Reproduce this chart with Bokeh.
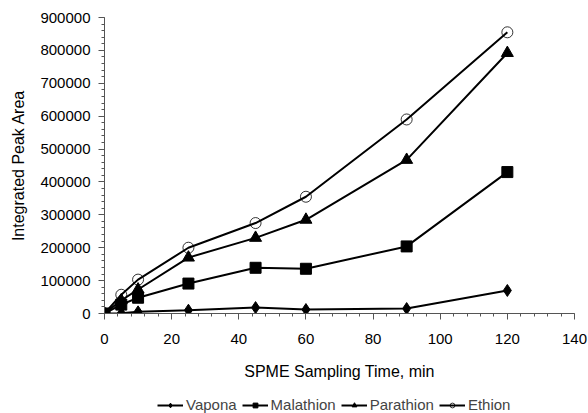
from bokeh.plotting import figure
from bokeh.layouts import column
from bokeh.models import Legend, LegendItem, FixedTicker, Range1d, NumeralTickFormatter
from bokeh.embed import file_html
from bokeh.resources import INLINE

time_min = [0, 5, 10, 25, 45, 60, 90, 120]
vapona = [0, 1000, 5000, 10000, 18000, 12000, 15000, 70000]
malathion = [0, 27000, 48000, 91000, 139000, 136000, 204000, 430000]
parathion = [0, 40000, 73000, 170000, 230000, 285000, 467000, 792000]
ethion = [0, 57000, 103000, 200000, 275000, 355000, 590000, 855000]

x_ticks = [0, 20, 40, 60, 80, 100, 120, 140]
y_ticks = [0, 100000, 200000, 300000, 400000, 500000, 600000, 700000, 800000, 900000]

FONT = "Liberation Sans"

p = figure(width=588, height=395, output_backend="svg", toolbar_location=None,
           x_range=Range1d(0, 140), y_range=Range1d(0, 900000),
           min_border_left=104, min_border_right=14, min_border_top=17, min_border_bottom=82)
p.outline_line_color = None
p.grid.grid_line_color = None
p.background_fill_color = "white"
p.border_fill_color = "white"

p.xaxis.ticker = FixedTicker(ticks=x_ticks, minor_ticks=[i * 4 for i in range(36)])
p.yaxis.ticker = FixedTicker(ticks=y_ticks, minor_ticks=[i * 20000 for i in range(46)])
p.yaxis.formatter = NumeralTickFormatter(format="0")

for ax in (p.xaxis, p.yaxis):
    ax.axis_line_color = "#555555"
    ax.major_tick_line_color = "#555555"
    ax.minor_tick_line_color = "#555555"
    ax.major_tick_in = 0
    ax.major_tick_out = 6
    ax.minor_tick_in = 0
    ax.minor_tick_out = 3
    ax.major_label_text_font = FONT
    ax.major_label_text_font_size = "15px"
    ax.major_label_text_color = "black"
    ax.axis_label_text_font = FONT
    ax.axis_label_text_font_size = "16px"
    ax.axis_label_text_font_style = "normal"
    ax.axis_label_text_color = "black"

p.xaxis.axis_label = "SPME Sampling Time, min"
p.yaxis.axis_label = "Integrated Peak Area"
p.xaxis.major_label_standoff = 14
p.xaxis.axis_label_standoff = 16
p.yaxis.major_label_standoff = 8
p.yaxis.axis_label_standoff = 10

series = [
    ("Vapona", vapona, "diamond", 12, "black"),
    ("Malathion", malathion, "square", 11, "black"),
    ("Parathion", parathion, "triangle", 12, "black"),
    ("Ethion", ethion, "circle", 11, None),
]

# legend strip below the chart
leg_fig = figure(width=588, height=18, output_backend="svg", toolbar_location=None,
                 x_range=Range1d(-20, -10), y_range=Range1d(-20, -10),
                 x_axis_location=None, y_axis_location=None,
                 min_border_left=0, min_border_right=0, min_border_top=0, min_border_bottom=0)
leg_fig.outline_line_color = None
leg_fig.grid.grid_line_color = None
leg_fig.background_fill_color = "white"
leg_fig.border_fill_color = "white"

items = []
for name, ys, marker, size, fill in series:
    kw = dict(marker=marker, size=size, line_color="black",
              fill_color=fill if fill else "white", fill_alpha=1 if fill else 0,
              line_width=1 if fill else 0.8)
    p.line(time_min, ys, line_color="black", line_width=2)
    p.scatter(time_min, ys, **kw)
    ln = leg_fig.line(time_min, ys, line_color="black", line_width=2)
    sc = leg_fig.scatter(time_min, ys, **kw)
    items.append(LegendItem(label=name, renderers=[ln, sc]))

legend = Legend(items=items, orientation="horizontal", location=(53, 0),
                label_text_font=FONT, label_text_font_size="15px",
                glyph_width=26, glyph_height=12, spacing=5, label_standoff=3,
                label_height=12, border_line_color=None, background_fill_alpha=0,
                padding=0, margin=0)
leg_fig.add_layout(legend, "center")

layout = column(p, leg_fig, spacing=0)
open("out.html", "w").write(file_html(layout, INLINE))
